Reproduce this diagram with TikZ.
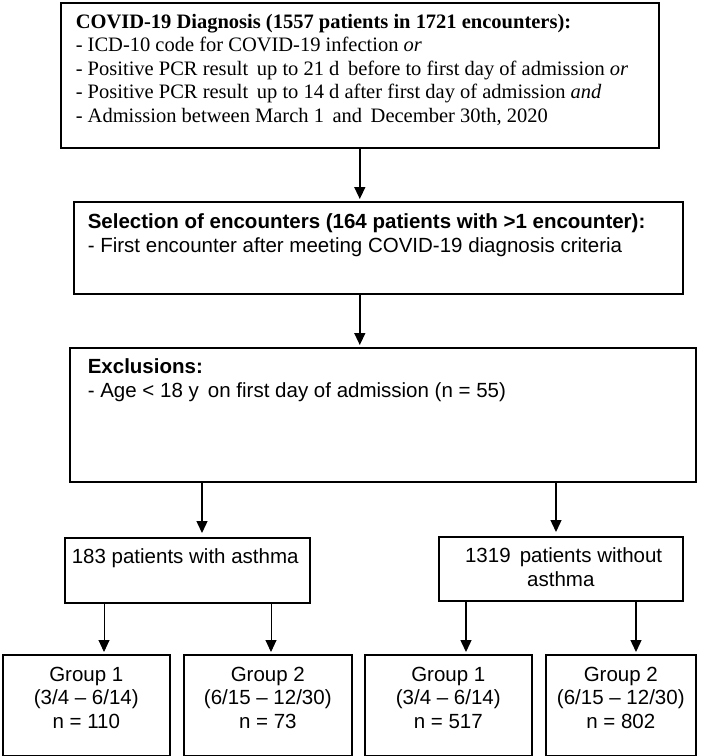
\documentclass[tikz,border=0pt]{standalone}
\usepackage{fontspec}
\setmainfont{Liberation Serif}
\newfontfamily\arialfont{Liberation Sans}
\usetikzlibrary{arrows.meta}

\tikzset{
  flowbox/.style={draw, line width=1.6pt, inner sep=0pt, anchor=north west},
  flowarrow/.style={line width=1.4pt, shorten >=2pt, -{Triangle[width=11pt,length=12pt]}},
}
% box of fixed size, text starting at the top
\newcommand{\boxtext}[4]{\parbox[c][#2][t]{#1}{\fontsize{20.5}{23.5}\selectfont\vspace*{#3}#4}}

\begin{document}
\begin{tikzpicture}[x=1pt, y=-1pt]
    \useasboundingbox (0,0) rectangle (714,756);

    \node[flowbox] (diag) at (60,2) {\boxtext{598pt}{145pt}{11pt}{\leftskip=15pt
      \textbf{COVID-19 Diagnosis (1557 patients in 1721 encounters):}\\
      - ICD-10 code for COVID-19 infection \textit{or}\\
      - Positive PCR result\, up to 21 d\, before to first day of admission \textit{or}\\
      - Positive PCR result\, up to 14 d after first day of admission \textit{and}\\
      - Admission between March 1\, and\, December 30th, 2020}};
    \node[flowbox] (sel) at (73,201) {\boxtext{609pt}{92pt}{12pt}{\arialfont\leftskip=14pt
      \textbf{Selection of encounters (164 patients with >1 encounter):}\\
      - First encounter after meeting COVID-19 diagnosis criteria}};
    \node[flowbox] (excl) at (69,347) {\boxtext{626pt}{134pt}{11pt}{\arialfont\leftskip=18pt
      \textbf{Exclusions:}\\
      - Age < 18 y\, on first day of admission (n = 55)}};

    \node[flowbox] (asthma) at (64,537) {\boxtext{245pt}{65pt}{11pt}{\arialfont\leftskip=7pt
      183 patients with asthma}};
    \node[flowbox] (noasthma) at (438,536) {\boxtext{244pt}{64pt}{11pt}{\arialfont\centering
      \ 1319\, patients without\\ asthma}};

    \node[flowbox] (g1a) at (2,654) {\boxtext{167pt}{101pt}{12pt}{\arialfont\centering
      Group 1\\ (3/4 – 6/14)\\ n = 110}};
    \node[flowbox] (g2a) at (183,654) {\boxtext{168pt}{101pt}{12pt}{\arialfont\centering
      Group 2\\ (6/15 – 12/30)\\ n = 73}};
    \node[flowbox] (g1n) at (364,654) {\boxtext{167pt}{101pt}{12pt}{\arialfont\centering
      Group 1\\ (3/4 – 6/14)\\ n = 517}};
    \node[flowbox] (g2n) at (545,654) {\boxtext{150pt}{101pt}{12pt}{\arialfont\centering
      Group 2\\ (6/15 – 12/30)\\ n = 802}};

    \draw[flowarrow] (diag.south) -- (diag.south |- sel.north);
    \draw[flowarrow] (sel.south -| diag.south) -- (excl.north -| diag.south);
    \draw[flowarrow, shorten >=4pt] (excl.south -| 202,0) -- (asthma.north -| 202,0);
    \draw[flowarrow, shorten >=4pt] (excl.south -| 556,0) -- (noasthma.north -| 556,0);

    \foreach \src/\dst/\x/\w in {asthma/g1a/104/0.9, asthma/g2a/271/0.9, noasthma/g1n/466/1.4, noasthma/g2n/636/1.4}
      \draw[flowarrow, line width=\w pt] (\src.south -| \x,0) -- (\dst.north -| \x,0);
\end{tikzpicture}
\end{document}
